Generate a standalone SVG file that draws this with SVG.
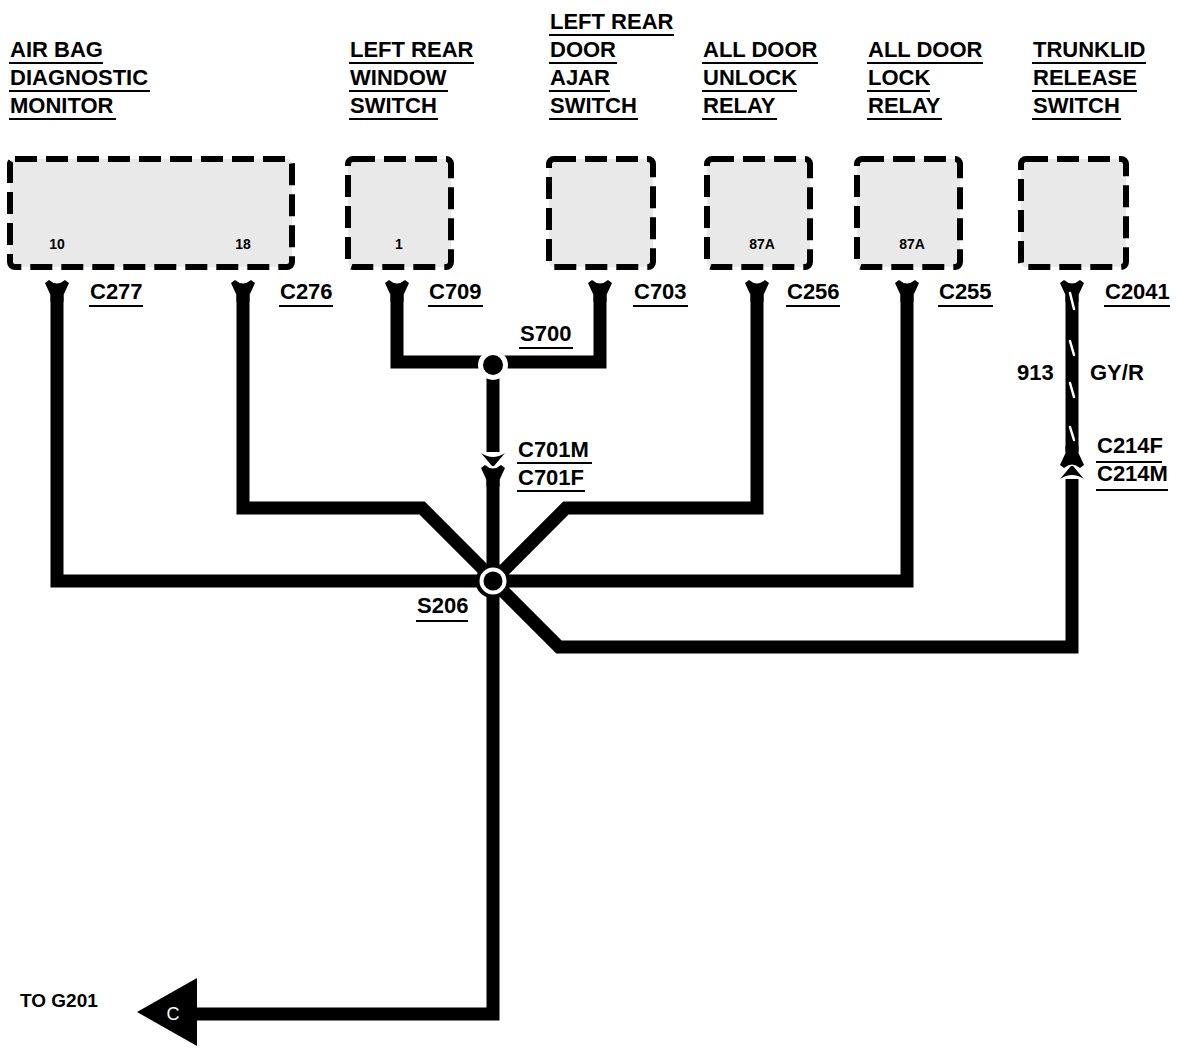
<svg xmlns="http://www.w3.org/2000/svg" width="1178" height="1056" viewBox="0 0 1178 1056">
<defs>
<style>
text{font-family:"Liberation Sans",Arial,Helvetica,sans-serif;font-weight:bold;fill:#000}
.h{font-size:22px}
.c{font-size:22px}
.n{font-size:14px}
.ul{stroke:#000;stroke-width:2.2;fill:none}
.box{fill:#e9e9e9;stroke:#000;stroke-width:6;stroke-dasharray:22 9;stroke-linejoin:round}
.w{fill:none;stroke:#000;stroke-width:13;stroke-linejoin:miter;stroke-linecap:butt}
.stripe{stroke:#fff;stroke-width:2.5;stroke-linecap:round}
</style>
<path id="yconn" d="M-12,1 L-8,-2 Q0,5 8,-2 L12,1 L6.5,13 L6.5,20 L-6.5,20 L-6.5,13 Z" fill="#000"/>
<path id="marrow" d="M-12,-12 Q0,-4 12,-12 L1,1 L-1,1 Z" fill="#000"/>
</defs>
<rect width="1178" height="1056" fill="#fff"/>

<g id="air-bag-diagnostic-monitor">
<text class="h" x="10" y="57">AIR BAG</text><line class="ul" x1="9" y1="63" x2="103" y2="63"/>
<text class="h" x="10" y="85">DIAGNOSTIC</text><line class="ul" x1="9" y1="91" x2="150" y2="91"/>
<text class="h" x="10" y="113">MONITOR</text><line class="ul" x1="9" y1="119" x2="116" y2="119"/>
<rect class="box" x="10" y="159" width="282" height="108" rx="5"/>
<text class="n" x="57" y="249" text-anchor="middle">10</text>
<text class="n" x="243" y="249" text-anchor="middle">18</text>
</g>

<g id="left-rear-window-switch">
<text class="h" x="350" y="57">LEFT REAR</text><line class="ul" x1="349" y1="63" x2="474" y2="63"/>
<text class="h" x="350" y="85">WINDOW</text><line class="ul" x1="349" y1="91" x2="448" y2="91"/>
<text class="h" x="350" y="113">SWITCH</text><line class="ul" x1="349" y1="119" x2="438" y2="119"/>
<rect class="box" x="348" y="159" width="103" height="108" rx="5"/>
<text class="n" x="399" y="249" text-anchor="middle">1</text>
</g>

<g id="left-rear-door-ajar-switch">
<text class="h" x="550" y="29">LEFT REAR</text><line class="ul" x1="549" y1="35" x2="674" y2="35"/>
<text class="h" x="550" y="57">DOOR</text><line class="ul" x1="549" y1="63" x2="617" y2="63"/>
<text class="h" x="550" y="85">AJAR</text><line class="ul" x1="549" y1="91" x2="610" y2="91"/>
<text class="h" x="550" y="113">SWITCH</text><line class="ul" x1="549" y1="119" x2="638" y2="119"/>
<rect class="box" x="549" y="159" width="104" height="108" rx="5"/>
</g>

<g id="all-door-unlock-relay">
<text class="h" x="703" y="57">ALL DOOR</text><line class="ul" x1="702" y1="63" x2="818" y2="63"/>
<text class="h" x="703" y="85">UNLOCK</text><line class="ul" x1="702" y1="91" x2="797" y2="91"/>
<text class="h" x="703" y="113">RELAY</text><line class="ul" x1="702" y1="119" x2="777" y2="119"/>
<rect class="box" x="707" y="159" width="103" height="108" rx="5"/>
<text class="n" x="762" y="249" text-anchor="middle">87A</text>
</g>

<g id="all-door-lock-relay">
<text class="h" x="868" y="57">ALL DOOR</text><line class="ul" x1="867" y1="63" x2="983" y2="63"/>
<text class="h" x="868" y="85">LOCK</text><line class="ul" x1="867" y1="91" x2="930" y2="91"/>
<text class="h" x="868" y="113">RELAY</text><line class="ul" x1="867" y1="119" x2="942" y2="119"/>
<rect class="box" x="857" y="159" width="103" height="108" rx="5"/>
<text class="n" x="912" y="249" text-anchor="middle">87A</text>
</g>

<g id="trunklid-release-switch">
<text class="h" x="1033" y="57">TRUNKLID</text><line class="ul" x1="1032" y1="63" x2="1146" y2="63"/>
<text class="h" x="1033" y="85">RELEASE</text><line class="ul" x1="1032" y1="91" x2="1137" y2="91"/>
<text class="h" x="1033" y="113">SWITCH</text><line class="ul" x1="1032" y1="119" x2="1121" y2="119"/>
<rect class="box" x="1021" y="159" width="105" height="108" rx="5"/>
</g>

<g id="connectors">
<path class="w" d="M57,295 V581 H493"/>
<path class="w" d="M243,295 V508 H422 L493,579"/>
<path class="w" d="M397,295 V362 H600 V295"/>
<path class="w" d="M493,365 V452"/>
<path class="w" d="M493,476 V1014 H195"/>
<path class="w" d="M757,295 V508 H566 L493,581"/>
<path class="w" d="M907,295 V581 H493"/>
<path class="w" d="M493,581 L559,647 H1072 V479"/>
<path class="w" d="M1072,295 V452"/>
<use href="#yconn" x="57" y="282"/>
<use href="#yconn" x="243" y="282"/>
<use href="#yconn" x="397" y="282"/>
<use href="#yconn" x="600" y="282"/>
<use href="#yconn" x="757" y="282"/>
<use href="#yconn" x="907" y="282"/>
<use href="#yconn" x="1072" y="282"/>
<use href="#marrow" transform="translate(493,465)"/>
<use href="#yconn" x="493" y="467"/>
<use href="#yconn" transform="translate(1072,466) rotate(180)"/>
<use href="#marrow" transform="translate(1072,467) rotate(180)"/>
<line class="stripe" x1="1070" y1="293" x2="1074" y2="309"/>
<line class="stripe" x1="1070" y1="341" x2="1074" y2="355"/>
<line class="stripe" x1="1070" y1="383" x2="1074" y2="397"/>
<line class="stripe" x1="1070" y1="427" x2="1074" y2="440"/>
<circle cx="493" cy="365" r="15" fill="#fff"/>
<circle cx="493" cy="365" r="10" fill="#000"/>
<circle cx="493" cy="581" r="15.5" fill="#fff" stroke="#000" stroke-width="4"/>
<circle cx="493" cy="581" r="9.5" fill="#000"/>
<path d="M137,1012 L197,978 L197,1046 Z" fill="#000"/>
<text x="173" y="1020" text-anchor="middle" style="font-size:18px;font-weight:normal;fill:#fff">C</text>
</g>

<g id="labels">
<text class="c" x="90" y="299">C277</text><line class="ul" x1="89" y1="306" x2="143" y2="306"/>
<text class="c" x="280" y="299">C276</text><line class="ul" x1="279" y1="306" x2="333" y2="306"/>
<text class="c" x="429" y="299">C709</text><line class="ul" x1="428" y1="306" x2="483" y2="306"/>
<text class="c" x="634" y="299">C703</text><line class="ul" x1="633" y1="306" x2="688" y2="306"/>
<text class="c" x="787" y="299">C256</text><line class="ul" x1="786" y1="306" x2="840" y2="306"/>
<text class="c" x="939" y="299">C255</text><line class="ul" x1="938" y1="306" x2="993" y2="306"/>
<text class="c" x="1105" y="299">C2041</text><line class="ul" x1="1104" y1="306" x2="1170" y2="306"/>
<text class="c" x="520" y="341">S700</text><line class="ul" x1="519" y1="348" x2="573" y2="348"/>
<text class="c" x="518" y="457">C701M</text><line class="ul" x1="517" y1="463" x2="592" y2="463"/>
<text class="c" x="518" y="485">C701F</text><line class="ul" x1="517" y1="491" x2="585" y2="491"/>
<text class="c" x="417" y="613">S206</text><line class="ul" x1="416" y1="621" x2="468" y2="621"/>
<text class="c" x="1017" y="380">913</text>
<text class="c" x="1090" y="380">GY/R</text>
<text class="c" x="1097" y="453">C214F</text><line class="ul" x1="1096" y1="462" x2="1162" y2="462"/>
<text class="c" x="1097" y="481">C214M</text><line class="ul" x1="1096" y1="490" x2="1168" y2="490"/>
<text class="c" x="20" y="1007" style="font-size:19px">TO G201</text>
</g>
</svg>
